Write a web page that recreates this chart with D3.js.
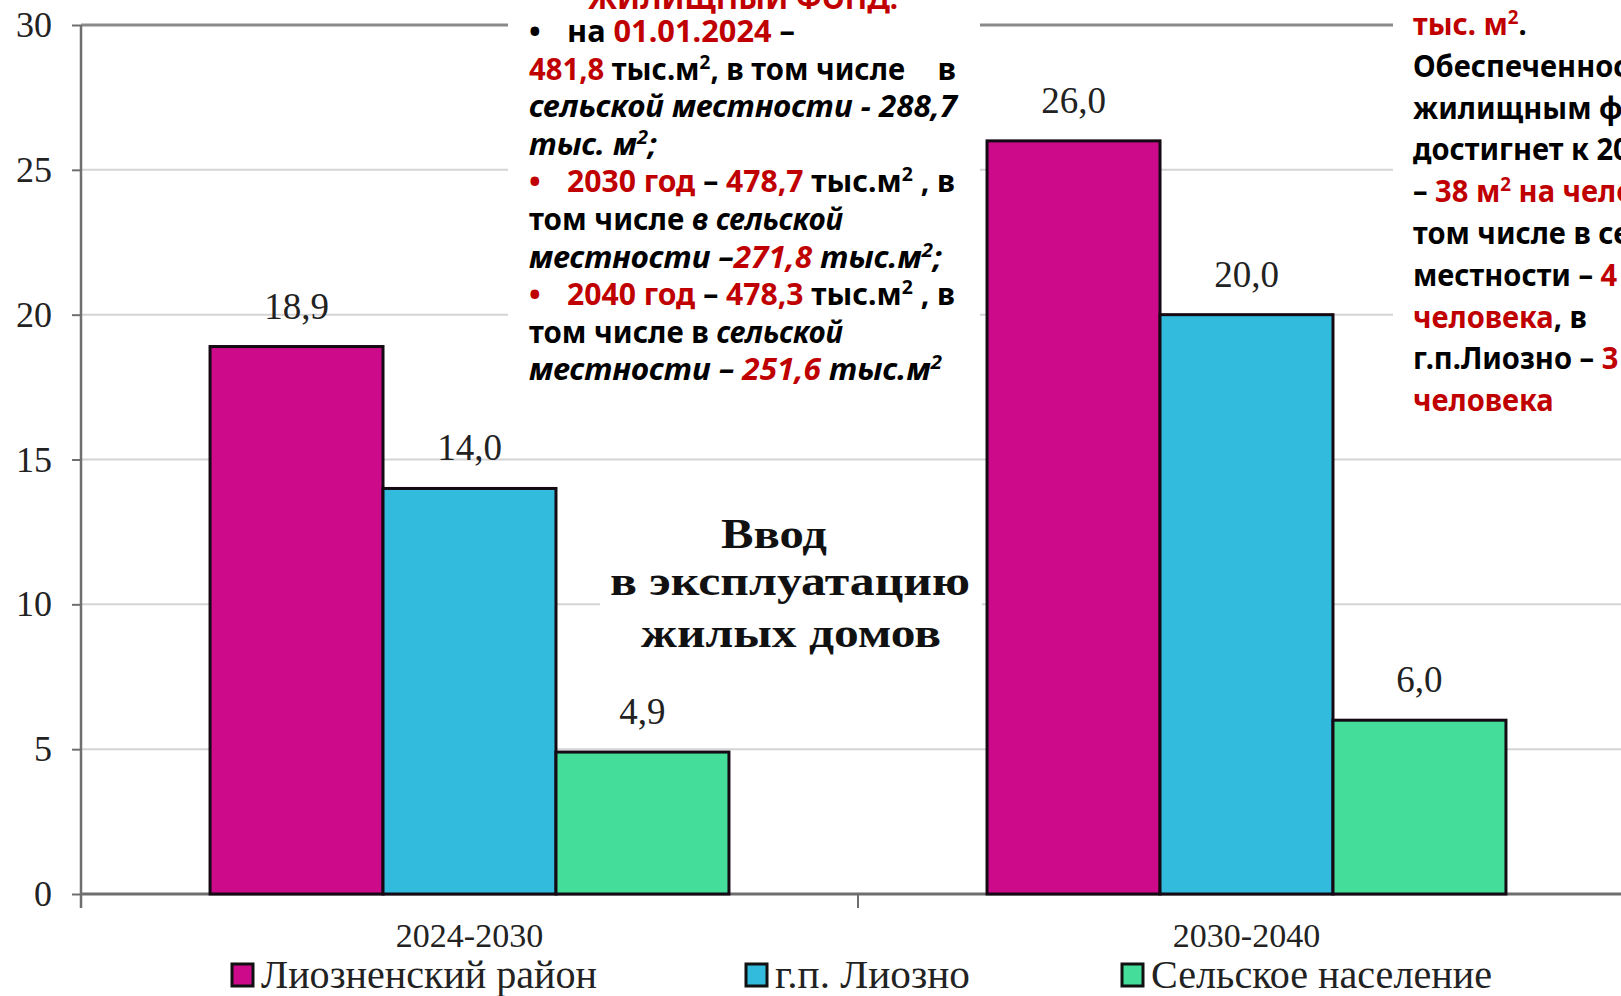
<!DOCTYPE html>
<html>
<head>
<meta charset="utf-8">
<script src="https://cdn.jsdelivr.net/npm/d3@7"></script>
<style>
  html, body { margin: 0; padding: 0; background: #fff; overflow: hidden; }
  svg { display: block; }
</style>
</head>
<body>
<svg id="chart" width="1621" height="996"></svg>
<script>
// chart data
const categories = ["2024-2030", "2030-2040"];
const seriesNames = ["Лиозненский район", "г.п. Лиозно", "Сельское население"];
const seriesColors = ["#cc0a8a", "#33bbdd", "#44dd99"];
const districtValues = [18.9, 26.0];
const townValues = [14.0, 20.0];
const ruralValues = [4.9, 6.0];
const yTicks = [0, 5, 10, 15, 20, 25, 30];

const titleLines = ["Ввод", "в эксплуатацию", "жилых домов"];

// text block in the middle: [text, color, italic]
const RED = "#c00000", BLACK = "#000";
const midHeading = "ЖИЛИЩНЫЙ ФОНД:";
const midLines = [
    { bullet: BLACK, segs: [["на ", BLACK], ["01.01.2024", RED], [" –", BLACK]] },
    { segs: [["481,8", RED], [" тыс.м², в том числе", BLACK]], tail: "в" },
    { segs: [["сельской местности - 288,7", BLACK, true]] },
    { segs: [["тыс. м²;", BLACK, true]] },
    { bullet: RED, segs: [["2030 год", RED], [" – ", BLACK], ["478,7", RED], [" тыс.м² , в", BLACK]] },
    { segs: [["том числе ", BLACK], ["в сельской", BLACK, true]] },
    { segs: [["местности –", BLACK, true], ["271,8", RED, true], [" тыс.м²;", BLACK, true]] },
    { bullet: RED, segs: [["2040 год", RED], [" – ", BLACK], ["478,3", RED], [" тыс.м² , в", BLACK]] },
    { segs: [["том числе в ", BLACK], ["сельской", BLACK, true]] },
    { segs: [["местности – ", BLACK, true], ["251,6", RED, true], [" тыс.м²", BLACK, true]] }
];
// ends of lines in the middle block (pixels)
const midLineEnds = [795, 905, 957, 657, 955, 843, 942, 955, 843, 942];

// text block on the right (cut by the page edge)
const rightLines = [
    [["тыс. м²", RED], [".", BLACK]],
    [["Обеспеченность", BLACK]],
    [["жилищным фондом", BLACK]],
    [["достигнет к 2040", BLACK]],
    [["– ", BLACK], ["38 м² на человека", RED]],
    [["том числе в сельской", BLACK]],
    [["местности – ", BLACK], ["4", RED]],
    [["человека", RED], [", в", BLACK]],
    [["г.п.Лиозно – ", BLACK], ["3", RED]],
    [["человека", RED]]
];

const fmt = d => d.toFixed(1).replace(".", ",");

const svg = d3.select("#chart");
const serif = "'Liberation Serif', 'Times New Roman', serif";
const sans = "'Noto Sans', 'Open Sans', sans-serif";

const x0 = d3.scaleBand()
    .domain(categories)
    .range([81, 1635])
    .paddingInner(0)
    .paddingOuter(0);

const x1 = d3.scaleBand()
    .domain(seriesNames)
    .range([0, x0.bandwidth()])
    .paddingInner(0)
    .paddingOuter(0.746);

const y = d3.scaleLinear()
    .domain([0, 30])
    .range([894, 25]);

// gridlines
svg.append("g")
    .selectAll("line")
    .data(yTicks.filter(d => d > 0 && d < 30))
    .enter().append("line")
    .attr("x1", 81)
    .attr("x2", 1621)
    .attr("y1", d => y(d))
    .attr("y2", d => y(d))
    .attr("stroke", "#d4d4d4")
    .attr("stroke-width", 2);

// top border of the plot
svg.append("line")
    .attr("x1", 81).attr("x2", 1621)
    .attr("y1", y(30)).attr("y2", y(30))
    .attr("stroke", "#8a8a8a").attr("stroke-width", 3);

// y axis
const yAxis = svg.append("g")
    .attr("transform", "translate(81,0)")
    .call(d3.axisLeft(y).tickValues(yTicks).tickSize(9).tickPadding(20).tickFormat(d3.format("d")));
yAxis.select(".domain").attr("stroke", "#6e6e6e").attr("stroke-width", 2.5)
    .attr("d", `M0,${y(30)}V${y(0) + 14}`);
yAxis.selectAll(".tick line").attr("stroke", "#6e6e6e").attr("stroke-width", 2);
yAxis.selectAll(".tick text")
    .attr("font-family", serif).attr("font-size", 36).attr("fill", "#222");

// x axis
const xAxis = svg.append("g")
    .attr("transform", `translate(0,${y(0)})`)
    .call(d3.axisBottom(x0).tickSize(0).tickPadding(0));
xAxis.select(".domain").attr("stroke", "#6e6e6e").attr("stroke-width", 3)
    .attr("d", `M81,0H1621`);
xAxis.selectAll(".tick text")
    .attr("font-family", serif).attr("font-size", 34).attr("fill", "#222")
    .attr("dy", 0).attr("y", 53);
svg.append("g")
    .selectAll("line")
    .data(categories.slice(1))
    .enter().append("line")
    .attr("x1", d => x0(d)).attr("x2", d => x0(d))
    .attr("y1", y(0)).attr("y2", y(0) + 14)
    .attr("stroke", "#6e6e6e").attr("stroke-width", 2);

// bars
const rows = categories.map((c, i) => ({
    category: c,
    values: [districtValues[i], townValues[i], ruralValues[i]].map((v, j) => ({ name: seriesNames[j], value: v, color: seriesColors[j] }))
}));

const groups = svg.append("g")
    .selectAll("g")
    .data(rows)
    .enter().append("g")
    .attr("transform", d => `translate(${x0(d.category)},0)`);

groups.selectAll("rect")
    .data(d => d.values)
    .enter().append("rect")
    .attr("x", d => x1(d.name))
    .attr("y", d => y(d.value))
    .attr("width", x1.bandwidth())
    .attr("height", d => y(0) - y(d.value))
    .attr("fill", d => d.color)
    .attr("stroke", "#150a14")
    .attr("stroke-width", 3);

groups.selectAll("text")
    .data(d => d.values)
    .enter().append("text")
    .attr("x", d => x1(d.name) + x1.bandwidth() / 2)
    .attr("y", d => y(d.value) - 28)
    .attr("text-anchor", "middle")
    .attr("font-family", serif)
    .attr("font-size", 37)
    .attr("fill", "#222")
    .text(d => fmt(d.value));

// legend
const legendX = [232, 746, 1122];
const legendW = [336, 195, 341];
const legend = svg.append("g")
    .selectAll("g")
    .data(seriesNames)
    .enter().append("g")
    .attr("transform", (d, i) => `translate(${legendX[i]},964)`);
legend.append("rect")
    .attr("width", 21).attr("height", 22)
    .attr("fill", (d, i) => seriesColors[i])
    .attr("stroke", "#111").attr("stroke-width", 3);
legend.append("text")
    .attr("x", 29).attr("y", 24)
    .attr("font-family", serif).attr("font-size", 41).attr("fill", "#222")
    .attr("textLength", (d, i) => legendW[i])
    .attr("lengthAdjust", "spacingAndGlyphs")
    .text(d => d);

// chart title, on a white box
svg.append("rect")
    .attr("x", 600).attr("y", 498).attr("width", 382).attr("height", 166)
    .attr("fill", "#fff");
const titleX = [774, 790, 791];
const titleY = [548, 595, 647];
const titleW = [106, 360, 300];
svg.append("g")
    .selectAll("text")
    .data(titleLines)
    .enter().append("text")
    .attr("x", (d, i) => titleX[i] - titleW[i] / 2)
    .attr("y", (d, i) => titleY[i])
    .attr("font-family", serif).attr("font-weight", "bold").attr("font-size", 42)
    .attr("fill", "#111")
    .attr("textLength", (d, i) => titleW[i])
    .attr("lengthAdjust", "spacingAndGlyphs")
    .text(d => d);

// writes the segments of one line, turning "²" into a raised small "2"
function addSegs(t, segs) {
    let raised = false;
    segs.forEach(s => {
        const parts = s[0].split("²");
        parts.forEach((p, k) => {
            if (k > 0) {
                t.append("tspan")
                    .attr("fill", s[1])
                    .attr("font-style", s[2] ? "italic" : "normal")
                    .attr("font-size", 20)
                    .attr("dy", raised ? 0 : -11)
                    .text("2");
                raised = true;
            }
            if (p.length) {
                t.append("tspan")
                    .attr("fill", s[1])
                    .attr("font-style", s[2] ? "italic" : "normal")
                    .attr("dy", raised ? 11 : 0)
                    .text(p);
                raised = false;
            }
        });
    });
}

// middle text block
svg.append("rect")
    .attr("x", 508).attr("y", 0).attr("width", 472).attr("height", 400)
    .attr("fill", "#fff");
const midFont = 31;
svg.append("text")
    .attr("x", 743).attr("y", 9)
    .attr("text-anchor", "middle")
    .attr("font-family", sans).attr("font-weight", "bold").attr("font-size", midFont)
    .attr("fill", RED)
    .attr("textLength", 310).attr("lengthAdjust", "spacingAndGlyphs")
    .text(midHeading);

const midG = svg.append("g");
midLines.forEach((line, i) => {
    const by = 42 + i * 37.6;
    const startX = line.bullet ? 567 : 529;
    if (line.bullet) {
        midG.append("text")
            .attr("x", 529).attr("y", by)
            .attr("font-family", sans).attr("font-weight", "bold").attr("font-size", midFont)
            .attr("fill", line.bullet)
            .text("•");
    }
    const t = midG.append("text")
        .attr("x", startX).attr("y", by)
        .attr("font-family", sans).attr("font-weight", "bold").attr("font-size", midFont)
        .attr("textLength", midLineEnds[i] - startX)
        .attr("lengthAdjust", "spacingAndGlyphs");
    addSegs(t, line.segs);
    if (line.tail) {
        midG.append("text")
            .attr("x", 956).attr("y", by)
            .attr("text-anchor", "end")
            .attr("font-family", sans).attr("font-weight", "bold").attr("font-size", midFont)
            .text(line.tail);
    }
});

// right text block
svg.append("rect")
    .attr("x", 1393).attr("y", 0).attr("width", 230).attr("height", 432)
    .attr("fill", "#fff");
const rightG = svg.append("g");
const rightTexts = rightLines.map((line, i) => {
    const t = rightG.append("text")
        .attr("x", 0).attr("y", 35 + i * 41.8)
        .attr("font-family", sans).attr("font-weight", "bold").attr("font-size", midFont);
    addSegs(t, line);
    return t;
});
// squeeze the block so that "человека, в" is as wide as in the picture
const refW = rightTexts[7].node().getComputedTextLength();
rightG.attr("transform", `translate(1413,0) scale(${174 / refW},1)`);
</script>
</body>
</html>
